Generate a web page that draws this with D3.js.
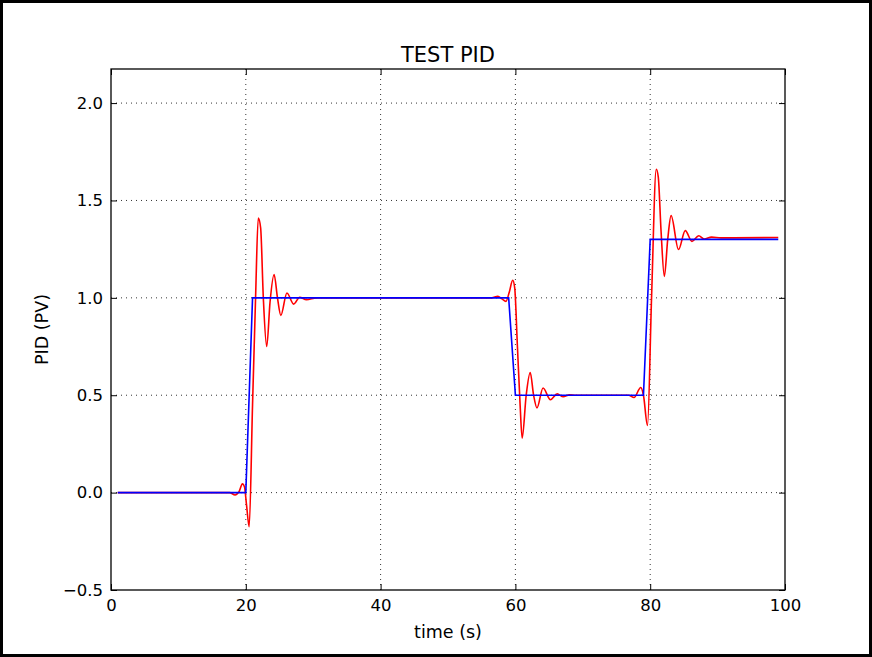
<!DOCTYPE html>
<html>
<head>
<meta charset="utf-8">
<script src="https://cdn.jsdelivr.net/npm/d3@7"></script>
<style>
  body { margin: 0; background: #fff; }
  svg { display: block; font-family: "DejaVu Sans", sans-serif; }
</style>
</head>
<body>
<div id="chart"></div>
<script>
// setpoint (blue)
var spTime = [1, 20, 21, 59, 60, 79, 80, 99];
var spValue = [0, 0, 1.0, 1.0, 0.5, 0.5, 1.3, 1.3];

// process value (red)
var pvTime = [1, 17.6, 18.4, 19.0, 19.5, 19.8, 20.1, 20.5, 21.0, 21.45, 21.85, 22.2, 22.6, 23.1, 23.6, 24.2, 24.7, 25.2, 26.1, 27.1, 28.0, 29.0, 30.5,
              56.5, 57.4, 58.0, 58.6, 59.1, 59.6, 59.9, 60.3, 60.7, 61.0, 61.6, 62.2, 62.7, 63.2, 64.1, 65.2, 66.2, 67.1, 68.0, 69.0,
              76.8, 77.6, 78.6, 79.0, 79.6, 80.2, 80.9, 81.2, 81.6, 82.1, 82.6, 83.1, 84.2, 85.2, 86.2, 87.2, 88.0, 89.1, 90.5, 99];
var pvValue = [0, 0, -0.012, 0.005, 0.045, 0.03, -0.06, -0.175, 0.45, 1.0, 1.41, 1.36, 1.0, 0.75, 0.98, 1.12, 1.0, 0.91, 1.025, 0.968, 1.003, 0.99, 1.0,
               1.0, 1.008, 0.995, 0.982, 1.03, 1.09, 1.05, 0.75, 0.45, 0.28, 0.5, 0.617, 0.5, 0.435, 0.537, 0.477, 0.507, 0.492, 0.502, 0.5,
               0.5, 0.488, 0.54, 0.5, 0.345, 1.0, 1.66, 1.62, 1.35, 1.11, 1.3, 1.422, 1.248, 1.345, 1.29, 1.319, 1.302, 1.312, 1.308, 1.31];

var xTicks = [0, 20, 40, 60, 80, 100];
var yTicks = [-0.5, 0.0, 0.5, 1.0, 1.5, 2.0];

var W = 872, H = 657;
var margin = {top: 69, right: 87, bottom: 67, left: 111};
var width = W - margin.left - margin.right,
    height = H - margin.top - margin.bottom;

var svg = d3.select("#chart").append("svg")
    .attr("width", W)
    .attr("height", H);

// figure border
svg.append("rect")
    .attr("x", 1.5).attr("y", 1.5)
    .attr("width", W - 3).attr("height", H - 3)
    .attr("fill", "#fff")
    .attr("stroke", "#000")
    .attr("stroke-width", 3);

var g = svg.append("g")
    .attr("transform", "translate(" + margin.left + "," + margin.top + ")");

var x = d3.scaleLinear().domain([0, 100]).range([0, width]);
var y = d3.scaleLinear().domain([-0.5, 2.175]).range([height, 0]);

// grid
g.selectAll(".gx").data(xTicks.filter(function(d) { return d > 0 && d < 100; }))
    .enter().append("line")
    .attr("x1", function(d) { return x(d); }).attr("x2", function(d) { return x(d); })
    .attr("y1", 0).attr("y2", height)
    .attr("stroke", "#000").attr("stroke-width", 0.8)
    .attr("stroke-dasharray", "1,4");
g.selectAll(".gy").data(yTicks.filter(function(d) { return d > -0.5; }))
    .enter().append("line")
    .attr("y1", function(d) { return y(d); }).attr("y2", function(d) { return y(d); })
    .attr("x1", 0).attr("x2", width)
    .attr("stroke", "#000").attr("stroke-width", 0.8)
    .attr("stroke-dasharray", "1,4");

var pv = pvTime.map(function(t, i) { return {t: t, v: pvValue[i]}; });
var sp = spTime.map(function(t, i) { return {t: t, v: spValue[i]}; });

var pvLine = d3.line()
    .x(function(d) { return x(d.t); })
    .y(function(d) { return y(d.v); })
    .curve(d3.curveMonotoneX);
var spLine = d3.line()
    .x(function(d) { return x(d.t); })
    .y(function(d) { return y(d.v); });

g.append("path").datum(pv)
    .attr("d", pvLine)
    .attr("fill", "none")
    .attr("stroke", "#ff0000")
    .attr("stroke-width", 1.6);

g.append("path").datum(sp)
    .attr("d", spLine)
    .attr("fill", "none")
    .attr("stroke", "#0000ff")
    .attr("stroke-width", 1.6);

// axes, ticks pointing inward on all four sides
var fmtY = d3.format(".1f");
var bottom = g.append("g").attr("transform", "translate(0," + height + ")")
    .call(d3.axisBottom(x).tickValues(xTicks).tickSize(-6).tickSizeOuter(0).tickPadding(9));
var left = g.append("g")
    .call(d3.axisLeft(y).tickValues(yTicks).tickFormat(fmtY).tickSize(-6).tickSizeOuter(0).tickPadding(8));
g.append("g")
    .call(d3.axisTop(x).tickValues(xTicks).tickFormat("").tickSize(-6).tickSizeOuter(0));
g.append("g").attr("transform", "translate(" + width + ",0)")
    .call(d3.axisRight(y).tickValues(yTicks).tickFormat("").tickSize(-6).tickSizeOuter(0));

g.selectAll(".domain").remove();
g.selectAll(".tick line").attr("stroke", "#000").attr("stroke-width", 1);
g.selectAll(".tick text")
    .attr("fill", "#000")
    .style("font-size", "16.5px")
    .style("font-family", "DejaVu Sans");

// frame
g.append("rect")
    .attr("width", width).attr("height", height)
    .attr("fill", "none")
    .attr("stroke", "#000")
    .attr("stroke-width", 1.3);

// labels
svg.append("text")
    .attr("x", margin.left + width / 2).attr("y", 62)
    .attr("text-anchor", "middle")
    .style("font-size", "21px")
    .text("TEST PID");
svg.append("text")
    .attr("x", margin.left + width / 2).attr("y", 638)
    .attr("text-anchor", "middle")
    .style("font-size", "17.5px")
    .text("time (s)");
svg.append("text")
    .attr("transform", "translate(48," + (margin.top + height / 2) + ") rotate(-90)")
    .attr("text-anchor", "middle")
    .style("font-size", "17.5px")
    .text("PID (PV)");
</script>
</body>
</html>
